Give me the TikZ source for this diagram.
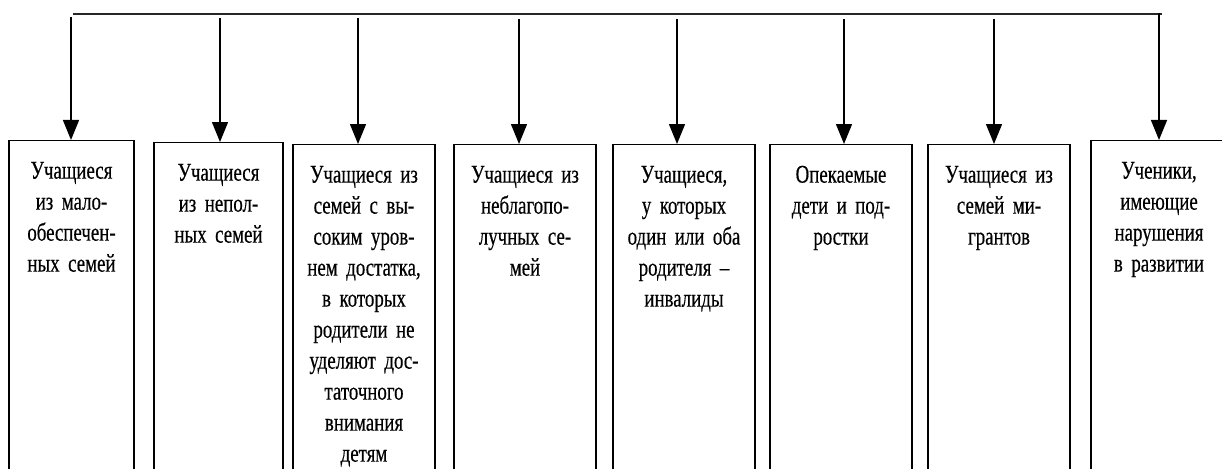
\documentclass[tikz,border=0pt]{standalone}
\usepackage{fontspec}
\newfontfamily\boxfont[FakeStretch=0.74,FakeBold=0.4]{Liberation Serif}
\usetikzlibrary{arrows.meta}
\tikzset{
  x=1pt, y=-1pt,
  catbox/.style={draw=black, line width=1.3pt, anchor=north, inner sep=0pt,
    align=center, text height=38pt, text depth=340pt,
    font=\boxfont\fontsize{25.5}{31}\selectfont},
  busline/.style={draw=black!85, line width=2pt},
  feed/.style={draw=black, line width=1.4pt, -{Triangle[length=20pt,width=16pt]}}
}
\begin{document}
\begin{tikzpicture}
\useasboundingbox (0,0) rectangle (1222,468);
\clip (0,0) rectangle (1222,468);
% boxes
\node[catbox, text width=125pt] (b1) at (71.5,140) {Учащиеся\\из мало-\\обеспечен-\\ных семей};
\node[catbox, text width=129pt] (b2) at (218.5,142) {Учащиеся\\из непол-\\ных семей};
\node[catbox, text width=142pt] (b3) at (364,144) {Учащиеся из\\семей с вы-\\соким уров-\\нем достатка,\\в которых\\родители не\\уделяют дос-\\таточного\\внимания\\детям};
\node[catbox, text width=142pt] (b4) at (525,144) {Учащиеся из\\неблагопо-\\лучных се-\\мей};
\node[catbox, text width=142pt] (b5) at (684,144) {Учащиеся,\\у которых\\один или оба\\родителя –\\инвалиды};
\node[catbox, text width=142pt] (b6) at (841,144) {Опекаемые\\дети и под-\\ростки};
\node[catbox, text width=142pt] (b7) at (999,144) {Учащиеся из\\семей ми-\\грантов};
\node[catbox, text width=136pt] (b8) at (1159,140) {Ученики,\\имеющие\\нарушения\\в развитии};
% bus line
\coordinate (busL) at (73,14);
\coordinate (busR) at (1162,14);
\draw[busline] (busL) -- (busR);
% arrow start points
\coordinate (s1) at (71,17);
\coordinate (s2) at (220,18);
\coordinate (s3) at (358,18);
\coordinate (s4) at (519,19);
\coordinate (s5) at (677,19);
\coordinate (s6) at (844,19);
\coordinate (s7) at (994,19);
\coordinate (s8) at (1159,13);
\foreach \i in {1,...,8}{
  \draw[feed] (s\i) -- (s\i |- b\i.north);
}
\end{tikzpicture}
\end{document}
